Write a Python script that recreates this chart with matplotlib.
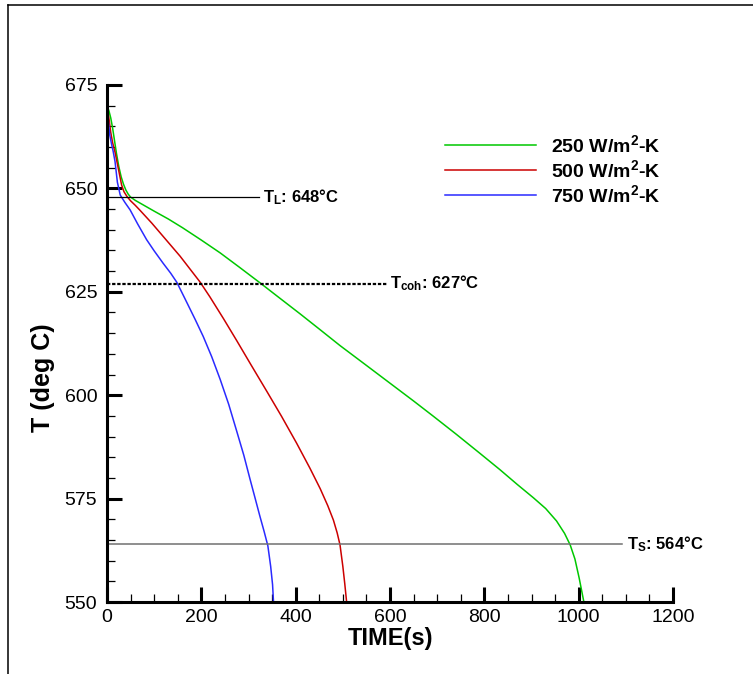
# plot.py
# Cooling curves for three heat transfer coefficients, with liquidus / coherency / solidus marks.

import matplotlib
matplotlib.use("Agg")
import matplotlib.pyplot as plt
from matplotlib.lines import Line2D
from matplotlib.ticker import MultipleLocator

plt.rcParams['font.family'] = ['Liberation Sans', 'DejaVu Sans']
plt.rcParams['mathtext.fontset'] = 'custom'
plt.rcParams['mathtext.rm'] = 'Liberation Sans:bold'
plt.rcParams['mathtext.bf'] = 'Liberation Sans:bold'
plt.rcParams['mathtext.it'] = 'Liberation Sans:bold'

# --- data ---
time_250 = [0, 4, 8, 12, 16, 20, 25, 30, 35, 40, 45, 50, 60, 80, 100, 130, 160, 200,
            240, 280, 324, 367, 409, 450, 494, 550, 600, 650, 692, 740, 790, 833, 870,
            904, 930, 953, 970, 982, 992, 1001, 1011]
temp_250 = [670, 668.8, 667, 664.5, 661.5, 658.5, 655.3, 652.8, 651.0, 649.6, 648.6,
            647.9, 647.1, 645.8, 644.5, 642.6, 640.5, 637.5, 634.4, 631.0, 627.2, 623.4,
            619.7, 616.0, 612.0, 607.2, 602.9, 598.6, 594.9, 590.6, 586.0, 582.0, 578.4,
            575.2, 572.6, 569.6, 566.6, 563.8, 560.4, 555.8, 550]

time_500 = [0, 4, 8, 12, 17, 24, 31, 36, 42, 50, 60, 70, 95, 119, 155, 197, 218, 247,
            275, 305, 339, 370, 402, 430, 452, 468, 480, 488, 494, 500, 504, 508]
temp_500 = [670, 667, 663.5, 661, 658.8, 654.8, 650.8, 649.2, 648.1, 647.0, 645.9,
            644.7, 641.6, 638.4, 633.6, 627.4, 623.8, 618.5, 613.2, 607.4, 600.9, 594.9,
            588.4, 582.4, 577.4, 573.3, 569.8, 566.7, 563.8, 558.6, 554.5, 550]

time_750 = [0, 3, 6, 10, 13, 17, 22, 28, 38, 49, 65, 84, 100, 119, 135, 148, 165, 187,
            204, 222, 240, 258, 275, 290, 303, 314, 324, 333, 341, 347, 351, 353]
temp_750 = [670, 666, 662.8, 660.5, 659, 656.5, 651.5, 648.4, 646.6, 644.8, 641.4,
            637.6, 634.9, 631.9, 629.5, 627.3, 623.4, 618.3, 614.2, 609.3, 603.8, 597.8,
            591.3, 585.5, 579.8, 575.1, 570.8, 567.1, 563.6, 558.6, 554.2, 550]

series_labels = [r'250 W/m$^{2}$-K', r'500 W/m$^{2}$-K', r'750 W/m$^{2}$-K']

T_liquidus = 648
T_coherency = 627
T_solidus = 564

# --- figure ---
fig = plt.figure(figsize=(7.53, 6.74), dpi=100)
ax = fig.add_axes([0.1421, 0.1068, 0.7517, 0.7671])

l1, = ax.plot(time_250, temp_250, color='#00c800', lw=1.1, label=series_labels[0])
l2, = ax.plot(time_500, temp_500, color='#cc0000', lw=1.1, label=series_labels[1])
l3, = ax.plot(time_750, temp_750, color='#2a2aff', lw=1.1, label=series_labels[2])

# reference temperatures
ax.plot([0, 322], [T_liquidus, T_liquidus], color='black', lw=0.9)
ax.plot([0, 594], [T_coherency, T_coherency], color='black', lw=1.6, dashes=(1.5, 0.8))
ax.plot([0, 1092], [T_solidus, T_solidus], color='#707070', lw=1.1)

txt = dict(fontsize=12, fontweight='bold', va='center', ha='left')
ax.text(331, T_liquidus, r'$\mathbf{T_{L}}$: %d°C' % T_liquidus, **txt)
ax.text(599, T_coherency, r'$\mathbf{T_{coh}}$: %d°C' % T_coherency, **txt)
ax.text(1102, T_solidus, r'$\mathbf{T_{S}}$: %d°C' % T_solidus, **txt)

ax.set_xlim(0, 1200)
ax.set_ylim(550, 675)
ax.xaxis.set_major_locator(MultipleLocator(200))
ax.xaxis.set_minor_locator(MultipleLocator(50))
ax.yaxis.set_major_locator(MultipleLocator(25))
ax.yaxis.set_minor_locator(MultipleLocator(5))

for side in ['top', 'right']:
    ax.spines[side].set_visible(False)
for side in ['left', 'bottom']:
    ax.spines[side].set_linewidth(2.2)

ax.tick_params(which='major', direction='in', length=11, width=2.2, labelsize=14)
ax.tick_params(axis='y', which='major', pad=7)
ax.tick_params(axis='x', which='major', pad=5)
ax.tick_params(which='minor', direction='in', length=6, width=0.9)

ax.set_xlabel('TIME(s)', fontsize=17, fontweight='bold', labelpad=1)
ax.set_ylabel('T (deg C)', fontsize=18, fontweight='bold')
# label sits a bit below the middle of the axis in the original
ax.yaxis.set_label_coords(-0.092, (674 - 378 - 72) / 517)

ax.legend(handles=[l1, l2, l3], loc='upper left', bbox_to_anchor=(445 / 753, 1 - 134 / 674),
          bbox_transform=fig.transFigure, frameon=False, borderpad=0, borderaxespad=0,
          handlelength=4.7, handletextpad=0.75, labelspacing=0.16,
          prop={'size': 14, 'weight': 'bold'})

# thin frame on the top and left of the image
fig.add_artist(Line2D([8 / 753, 8 / 753], [0, 1 - 5 / 674], color='black', lw=1.1))
fig.add_artist(Line2D([8 / 753, 1], [1 - 5 / 674, 1 - 5 / 674], color='black', lw=1.1))

fig.savefig('out.png', dpi=100)
